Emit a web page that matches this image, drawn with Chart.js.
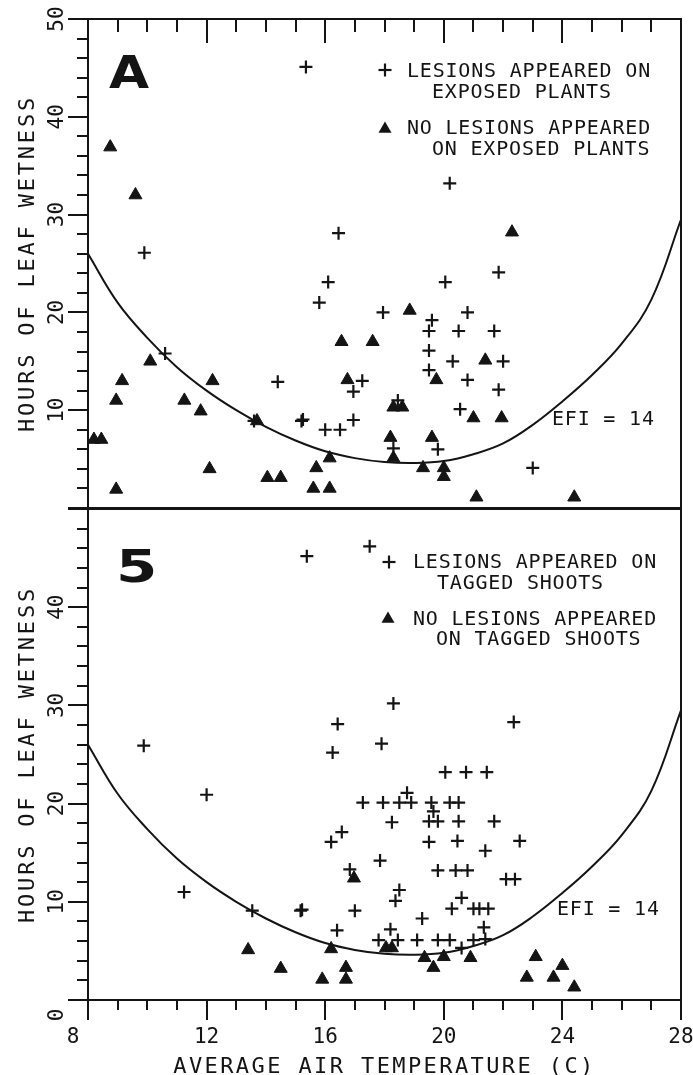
<!DOCTYPE html>
<html>
<head>
<meta charset="utf-8">
<script src="https://cdn.jsdelivr.net/npm/chart.js@4.4.1/dist/chart.umd.min.js"></script>
<style>
  html, body { margin: 0; background: #fff; }
  #wrap { position: relative; width: 693px; height: 1075px; }
  #wrap canvas { position: absolute; left: 0; top: 0; }
</style>
</head>
<body>
<div id="wrap">
  <canvas id="panelA" width="693" height="1075"></canvas>
  <canvas id="panelB" width="693" height="1075"></canvas>
</div>
<script>
// Leaf wetness vs. air temperature, two stacked panels sharing the x axis

// EFI = 14 boundary curve
const efiTemp  = [8, 9, 10, 11, 12, 13, 14, 15, 16, 17, 18, 19, 20, 21, 22, 23, 24, 25, 26, 27, 28];
const efiHours = [26.0, 21.0, 17.4, 14.4, 12.0, 10.0, 8.3, 6.9, 5.8, 5.1, 4.7, 4.6, 4.8, 5.5, 6.6, 8.5, 10.9, 13.6, 16.8, 21.3, 29.5];

// Panel A: exposed plants
const tempA_lesions = [15.35, 16.45, 9.9, 20.2, 16.1, 15.8, 10.6, 14.4, 13.6, 15.2, 15.25,
  16.0, 16.5, 17.95, 20.05, 21.85, 20.8, 19.6, 19.5, 20.5, 21.7,
  19.5, 20.3, 22.0, 19.5, 20.8, 21.85, 17.25, 16.95, 18.45, 20.55,
  16.95, 18.3, 19.8, 23.0];
const wetA_lesions = [45.1, 28.1, 26.1, 33.2, 23.1, 21.0, 15.8, 12.9, 8.9, 8.9, 9.05,
  8.0, 8.0, 20.0, 23.1, 24.1, 20.0, 19.2, 18.1, 18.1, 18.1,
  16.1, 15.0, 15.0, 14.1, 13.1, 12.1, 13.0, 11.9, 11.0, 10.1,
  9.0, 6.1, 6.0, 4.1];
const tempA_none = [8.75, 9.6, 8.2, 8.45, 8.95, 8.95, 9.15, 10.1, 11.25, 11.8,
  12.2, 12.1, 13.7, 14.05, 14.5, 15.7, 16.15, 15.6, 16.15, 16.55,
  17.6, 16.75, 18.85, 22.3, 21.4, 19.75, 18.3, 18.6, 21.0, 21.95,
  18.2, 18.3, 19.6, 19.3, 20.0, 20.0, 21.1, 24.4];
const wetA_none = [36.9, 32.0, 7.0, 7.0, 1.9, 11.0, 13.0, 15.0, 11.0, 9.9,
  13.0, 4.0, 8.9, 3.1, 3.1, 4.1, 5.1, 2.0, 2.0, 17.0,
  17.0, 13.1, 20.2, 28.2, 15.1, 13.1, 10.3, 10.3, 9.2, 9.2,
  7.2, 5.1, 7.2, 4.1, 4.1, 3.2, 1.1, 1.1];

// Panel B: tagged shoots
const tempB_lesions = [15.38, 17.5, 16.42, 9.88, 16.25, 18.3, 22.36, 17.9, 12.0, 11.24,
  13.54, 15.17, 15.22, 16.2, 16.56, 16.4, 20.05, 20.75, 21.45, 17.27,
  17.95, 18.5, 18.76, 18.9, 19.58, 20.2, 20.5, 19.65, 19.5, 19.8,
  20.5, 21.7, 18.25, 19.5, 20.46, 22.56, 21.4, 17.85, 16.83, 19.8,
  20.4, 20.8, 22.1, 22.4, 18.5, 18.37, 20.6, 20.27, 21.0, 21.2,
  21.5, 17.0, 19.27, 18.2, 21.35, 17.8, 18.45, 19.1, 19.8, 20.2,
  21.0, 21.4, 20.6];
const wetB_lesions = [45.2, 46.2, 28.1, 25.9, 25.2, 30.2, 28.3, 26.1, 20.9, 11.0,
  9.1, 9.1, 9.2, 16.1, 17.1, 7.1, 23.2, 23.2, 23.2, 20.1,
  20.1, 20.1, 21.1, 20.1, 20.1, 20.1, 20.1, 19.2, 18.2, 18.2,
  18.2, 18.2, 18.1, 16.1, 16.2, 16.2, 15.2, 14.2, 13.3, 13.2,
  13.2, 13.2, 12.3, 12.3, 11.2, 10.1, 10.4, 9.3, 9.3, 9.3,
  9.3, 9.1, 8.3, 7.2, 7.4, 6.1, 6.1, 6.1, 6.1, 6.1,
  6.1, 6.2, 5.3];
const tempB_none = [13.4, 14.5, 15.9, 16.2, 16.97, 16.7, 16.7, 18.05, 18.25, 19.35,
  20.0, 20.9, 19.65, 22.8, 23.1, 23.7, 24.0, 24.4];
const wetB_none = [5.1, 3.2, 2.1, 5.2, 12.4, 3.3, 2.1, 5.3, 5.3, 4.3,
  4.4, 4.3, 3.3, 2.3, 4.4, 2.3, 3.5, 1.3];

// Tick labels and annotation text
const xTickLabels  = ['8', '12', '16', '20', '24', '28'];
const yTickLabelsA = ['10', '20', '30', '40', '50'];
const yTickLabelsB = ['0', '10', '20', '30', '40'];
const legendA = ['LESIONS APPEARED ON', 'EXPOSED PLANTS', 'NO LESIONS APPEARED', 'ON EXPOSED PLANTS'];
const legendB = ['LESIONS APPEARED ON', 'TAGGED SHOOTS', 'NO LESIONS APPEARED', 'ON TAGGED SHOOTS'];
const yTitle = 'HOURS OF LEAF WETNESS';
const xTitle = 'AVERAGE AIR TEMPERATURE (C)';
const efiLabel = 'EFI = 14';

const INK = '#141414';
const MONO = '"DejaVu Sans Mono", "Liberation Mono", monospace';

function pts(xs, ys) {
  return xs.map((x, i) => ({ x: x, y: ys[i] }));
}

function line(ctx, x1, y1, x2, y2) {
  ctx.beginPath();
  ctx.moveTo(x1, y1);
  ctx.lineTo(x2, y2);
  ctx.stroke();
}

// tick values of a hidden scale: min..max in steps of ticks.stepSize
function tickValues(scale) {
  const step = scale.options.ticks.stepSize;
  const out = [];
  for (let v = scale.min; v <= scale.max + 1e-9; v += step) out.push(v);
  return out;
}

// legend marker, same shapes as the point styles used for the data
function marker(ctx, style, x, y) {
  if (style === 'cross') {
    ctx.lineWidth = 2.2;
    line(ctx, x - 6.5, y, x + 6.5, y);
    line(ctx, x, y - 6.5, x, y + 6.5);
  } else {
    const r = 7.5;
    ctx.beginPath();
    ctx.moveTo(x, y - r);
    ctx.lineTo(x + r * 0.866, y + r / 2);
    ctx.lineTo(x - r * 0.866, y + r / 2);
    ctx.closePath();
    ctx.fill();
  }
}

// Box, tick marks, tick labels, titles and in-panel text
const framePlugin = {
  id: 'frame',
  afterDatasetsDraw(chart, args, o) {
    const { ctx, chartArea: a, scales: { x, y } } = chart;
    ctx.save();
    ctx.strokeStyle = INK;
    ctx.fillStyle = INK;
    ctx.lineWidth = 2;

    ctx.strokeRect(a.left, a.top, a.right - a.left, a.bottom - a.top);

    // y ticks point outward, every 2 h, long ones every 10 h
    for (const v of tickValues(y)) {
      const py = Math.round(y.getPixelForValue(v));
      const major = Math.round(v) % 10 === 0;
      line(ctx, a.left - (major ? 20 : 11), py, a.left, py);
    }
    // x ticks: inward along the top of panel A, outward under panel B
    for (const v of tickValues(x)) {
      const px = Math.round(x.getPixelForValue(v));
      const major = Math.round(v) % 4 === 0;
      if (o.xTicks === 'top') line(ctx, px, a.top, px, a.top + (major ? 24 : 13));
      else line(ctx, px, a.bottom, px, a.bottom + (major ? 20 : 10));
    }

    ctx.font = '21px ' + MONO;
    // y tick labels, rotated
    for (const lab of o.yLabels) {
      const v = Number(lab);
      let py = y.getPixelForValue(v);
      if (o.xLabels && v === y.min) py += o.cornerShift;
      ctx.save();
      ctx.translate(a.left - 33, py);
      ctx.rotate(-Math.PI / 2);
      ctx.textAlign = 'center';
      ctx.fillText(lab, 0, 7.7);
      ctx.restore();
    }
    // x tick labels
    if (o.xLabels) {
      ctx.textAlign = 'center';
      for (const lab of o.xLabels) {
        const v = Number(lab);
        let px = x.getPixelForValue(v);
        if (v === x.min) px -= o.cornerShift;
        ctx.fillText(lab, px, a.bottom + 43);
      }
      ctx.font = '22px ' + MONO;
      ctx.letterSpacing = '2.4px';
      ctx.fillText(xTitle, (a.left + a.right) / 2, a.bottom + 73);
      ctx.letterSpacing = '0px';
    }

    // y title
    ctx.save();
    ctx.font = '22px ' + MONO;
    ctx.letterSpacing = '2.8px';
    ctx.translate(a.left - 62, (a.top + a.bottom) / 2);
    ctx.rotate(-Math.PI / 2);
    ctx.textAlign = 'center';
    ctx.fillText(yTitle, 0, 8);
    ctx.restore();

    // panel letter
    ctx.save();
    ctx.font = 'bold ' + o.letterSize + 'px "DejaVu Sans", sans-serif';
    ctx.textAlign = 'left';
    ctx.translate(o.letterX, o.letterY);
    ctx.scale(o.letterScale, 1);
    ctx.fillText(o.letter, 0, 0);
    ctx.restore();

    // legend
    ctx.font = '20px ' + MONO;
    ctx.letterSpacing = '0.8px';
    ctx.textAlign = 'left';
    o.legend.forEach((item) => {
      marker(ctx, item.style, item.mx, item.my);
      ctx.fillText(item.lines[0], item.x1, item.base);
      ctx.fillText(item.lines[1], item.x2, item.base + item.gap);
    });
    ctx.fillText(efiLabel, o.efiX, o.efiY);
    ctx.letterSpacing = '0px';

    ctx.restore();
  }
};

function panelData(tL, wL, tN, wN) {
  return {
    datasets: [
      {
        label: efiLabel,
        data: pts(efiTemp, efiHours),
        showLine: true,
        borderColor: INK,
        borderWidth: 2,
        pointRadius: 0,
        tension: 0.4,
        clip: false
      },
      {
        label: 'lesions',
        data: pts(tL, wL),
        pointStyle: 'cross',
        pointRadius: 6.5,
        borderColor: INK,
        borderWidth: 2.2,
        clip: false
      },
      {
        label: 'no lesions',
        data: pts(tN, wN),
        pointStyle: 'triangle',
        pointRadius: 7.5,
        backgroundColor: INK,
        borderColor: INK,
        borderWidth: 1,
        clip: false
      }
    ]
  };
}

function panelOptions(padding, frame) {
  return {
    responsive: false,
    animation: false,
    events: [],
    layout: { padding: padding },
    scales: {
      x: { type: 'linear', min: 8, max: 28, display: false, ticks: { stepSize: 1 } },
      y: { type: 'linear', min: 0, max: 50, display: false, ticks: { stepSize: 2 } }
    },
    plugins: {
      legend: { display: false },
      tooltip: { enabled: false },
      frame: frame
    }
  };
}

new Chart(document.getElementById('panelA'), {
  type: 'scatter',
  data: panelData(tempA_lesions, wetA_lesions, tempA_none, wetA_none),
  options: panelOptions({ left: 88, right: 12, top: 19, bottom: 567 }, {
    xTicks: 'top',
    xLabels: null,
    yLabels: yTickLabelsA,
    cornerShift: 0,
    letter: 'A', letterX: 109, letterY: 88, letterSize: 45, letterScale: 1.15,
    legend: [
      { style: 'cross', mx: 385, my: 70, lines: legendA.slice(0, 2), x1: 407, x2: 432, base: 77, gap: 21 },
      { style: 'triangle', mx: 385, my: 129, lines: legendA.slice(2, 4), x1: 407, x2: 432, base: 134, gap: 21 }
    ],
    efiX: 552, efiY: 425
  }),
  plugins: [framePlugin]
});

new Chart(document.getElementById('panelB'), {
  type: 'scatter',
  data: panelData(tempB_lesions, wetB_lesions, tempB_none, wetB_none),
  options: panelOptions({ left: 88, right: 12, top: 509, bottom: 75 }, {
    xTicks: 'bottom',
    xLabels: xTickLabels,
    yLabels: yTickLabelsB,
    cornerShift: 15,
    letter: '5', letterX: 116, letterY: 582, letterSize: 44, letterScale: 1.35,
    legend: [
      { style: 'cross', mx: 389, my: 562, lines: legendB.slice(0, 2), x1: 413, x2: 437, base: 568, gap: 21 },
      { style: 'triangle', mx: 388, my: 619, lines: legendB.slice(2, 4), x1: 413, x2: 436, base: 625, gap: 20 }
    ],
    efiX: 557, efiY: 915
  }),
  plugins: [framePlugin]
});
</script>
</body>
</html>
